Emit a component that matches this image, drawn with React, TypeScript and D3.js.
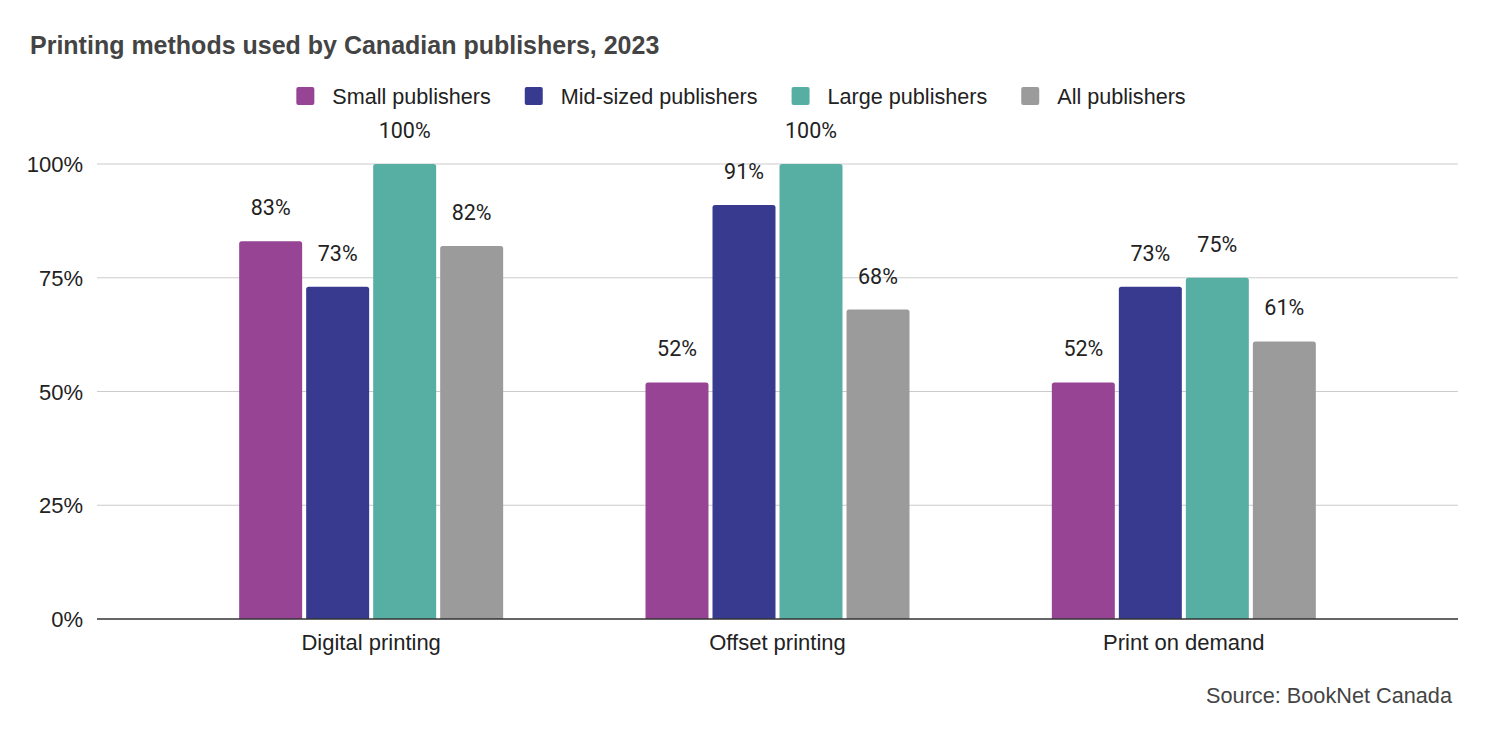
import { useEffect, useRef } from "react";
import * as d3 from "d3";

const W = 1487, H = 737;

const categories = ["Digital printing", "Offset printing", "Print on demand"];
const series = ["Small publishers", "Mid-sized publishers", "Large publishers", "All publishers"];
const colors = ["#974494", "#373a8f", "#56afa2", "#9b9b9b"];
// values per category, in series order
const values = [
  [0.83, 0.73, 1.0, 0.82],
  [0.52, 0.91, 1.0, 0.68],
  [0.52, 0.73, 0.75, 0.61],
];
const yTicks = [0, 0.25, 0.5, 0.75, 1];

const SANS = "'Liberation Sans', Arial, sans-serif";

export default function App() {
  const ref = useRef<SVGSVGElement>(null);

  useEffect(() => {
    document.body.style.margin = "0";
    if (!ref.current) return;
    const svg = d3.select(ref.current);
    svg.selectAll("*").remove();

    const L = 97, R = 1458, T = 164, B = 619;
    const y = d3.scaleLinear().domain([0, 1]).range([B, T]);
    const x0 = d3.scaleBand().domain(categories).range([168, 1387]);
    const x1 = d3.scaleBand().domain(series).range([-132, 132]).paddingInner(0.06);

    svg.append("rect").attr("width", W).attr("height", H).attr("fill", "#fff");

    // title
    svg.append("text").attr("x", 30).attr("y", 54)
      .attr("font-family", SANS).attr("font-size", 25).attr("font-weight", 700)
      .attr("fill", "#444").text("Printing methods used by Canadian publishers, 2023");

    // grid
    svg.append("g").selectAll("line").data(yTicks.filter(t => t > 0)).join("line")
      .attr("x1", L).attr("x2", R)
      .attr("y1", d => y(d)).attr("y2", d => y(d))
      .attr("stroke", "#cccccc").attr("stroke-width", 1.2);

    svg.append("g").selectAll("text").data(yTicks).join("text")
      .attr("x", 83).attr("y", d => y(d) + 8)
      .attr("text-anchor", "end").attr("font-family", SANS).attr("font-size", 22)
      .attr("fill", "#222").text(d => d3.format(".0%")(d));

    // bars
    const groups = svg.append("g").selectAll("g").data(categories).join("g")
      .attr("transform", c => `translate(${x0(c)! + x0.bandwidth() / 2},0)`);

    groups.each(function (c, ci) {
      const g = d3.select(this);
      series.forEach((s, si) => {
        const v = values[ci][si];
        const bx = x1(s)!;
        const top = y(v);
        const w = x1.bandwidth(), r = 2.5;
        g.append("path")
          .attr("d", `M${bx},${B}V${top + r}Q${bx},${top} ${bx + r},${top}H${bx + w - r}Q${bx + w},${top} ${bx + w},${top + r}V${B}Z`)
          .attr("fill", colors[si]);
        g.append("text")
          .attr("x", bx + w / 2).attr("y", top - 26)
          .attr("text-anchor", "middle").attr("font-family", "Roboto, sans-serif")
          .attr("font-size", 21.5).attr("fill", "#222")
          .text(d3.format(".0%")(v));
      });
    });

    // baseline
    svg.append("line").attr("x1", L).attr("x2", R).attr("y1", B).attr("y2", B)
      .attr("stroke", "#333").attr("stroke-width", 1.5);

    svg.append("g").selectAll("text").data(categories).join("text")
      .attr("x", c => x0(c)! + x0.bandwidth() / 2).attr("y", 650)
      .attr("text-anchor", "middle").attr("font-family", SANS).attr("font-size", 22)
      .attr("fill", "#222").text(c => c);

    // legend
    const leg = svg.append("g");
    let cx = 0;
    series.forEach((s, i) => {
      const item = leg.append("g").attr("transform", `translate(${cx},0)`);
      item.append("rect").attr("x", 0).attr("y", 87).attr("width", 18).attr("height", 18)
        .attr("rx", 2).attr("fill", colors[i]);
      const t = item.append("text").attr("x", 36).attr("y", 104)
        .attr("font-family", SANS).attr("font-size", 21.6).attr("fill", "#222").text(s);
      const tw = (t.node() as SVGTextElement).getComputedTextLength();
      cx += 36 + tw + 34;
    });
    const legW = cx - 34;
    leg.attr("transform", `translate(${741 - legW / 2},0)`);

    // source
    svg.append("text").attr("x", 1452).attr("y", 703).attr("text-anchor", "end")
      .attr("font-family", SANS).attr("font-size", 21.7).attr("fill", "#444")
      .text("Source: BookNet Canada");
  }, []);

  return <svg ref={ref} width={W} height={H} style={{ display: "block" }} />;
}
